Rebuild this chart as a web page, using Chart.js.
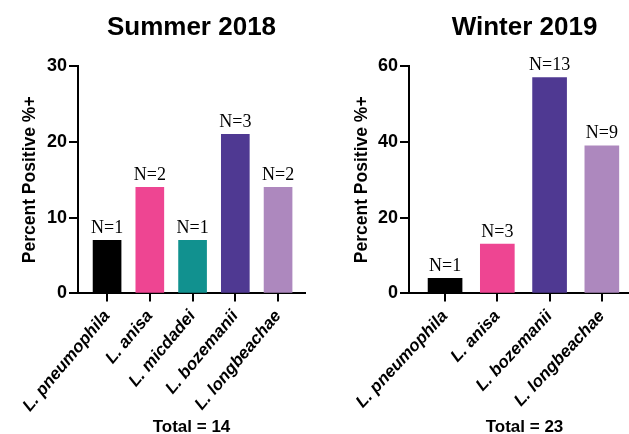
<!DOCTYPE html>
<html>
<head>
<meta charset="utf-8">
<script src="https://cdn.jsdelivr.net/npm/chart.js@4.4.1/dist/chart.umd.min.js"></script>
<style>
  html, body { margin: 0; padding: 0; background: #fff; overflow: hidden; }
  .pane { position: absolute; top: 0; }
</style>
</head>
<body>
<div class="pane" style="left:0"><canvas id="summerChart" width="320" height="434"></canvas></div>
<div class="pane" style="left:320px"><canvas id="winterChart" width="320" height="434"></canvas></div>
<script>
// ---- data ----
const summerSpecies = ['L. pneumophila', 'L. anisa', 'L. micdadei', 'L. bozemanii', 'L. longbeachae'];
const summerPercent = [7, 14, 7, 21, 14];
const summerCounts  = [1, 2, 1, 3, 2];
const summerTicks   = [0, 10, 20, 30];

const winterSpecies = ['L. pneumophila', 'L. anisa', 'L. bozemanii', 'L. longbeachae'];
const winterPercent = [4, 13, 57, 39];
const winterCounts  = [1, 3, 13, 9];
const winterTicks   = [0, 20, 40, 60];

const summerColors = ['#000000', '#ee4592', '#11918f', '#4f3992', '#ad88be'];
const winterColors = ['#000000', '#ee4592', '#4f3992', '#ad88be'];

const SANS = '"Liberation Sans", Arial, sans-serif';
const SERIF = '"Liberation Serif", "Times New Roman", serif';

// N=.. labels above each bar
const nLabels = {
    id: 'nLabels',
    afterDatasetsDraw(chart, args, opts) {
        const ctx = chart.ctx;
        const meta = chart.getDatasetMeta(0);
        ctx.save();
        ctx.font = '18px ' + SERIF;
        ctx.fillStyle = '#000';
        ctx.textAlign = 'center';
        ctx.textBaseline = 'bottom';
        meta.data.forEach((bar, i) => {
            ctx.fillText('N=' + opts.counts[i], bar.x, bar.y - 3);
        });
        ctx.restore();
    }
};

function makeChart(id, cfg) {
    return new Chart(document.getElementById(id), {
        type: 'bar',
        data: {
            datasets: [{
                data: cfg.values.map((v, i) => ({ x: i, y: v })),
                backgroundColor: cfg.colors,
                barThickness: cfg.barWidth,
                borderWidth: 0
            }]
        },
        options: {
            responsive: false,
            animation: false,
            devicePixelRatio: 1,
            layout: { padding: { left: 0, right: cfg.padRight, top: 0, bottom: 0 } },
            plugins: {
                legend: { display: false },
                tooltip: { enabled: false },
                title: {
                    display: true, text: cfg.title, color: '#000', fullSize: false,
                    font: { family: SANS, size: 26, weight: 'bold' },
                    padding: { top: 12, bottom: 23 }
                },
                subtitle: {
                    display: true, position: 'bottom', text: cfg.total, color: '#000', fullSize: false,
                    font: { family: SANS, size: 17, weight: 'bold', lineHeight: 0.8 },
                    padding: { top: 0, bottom: 0 }
                },
                nLabels: { counts: cfg.counts }
            },
            scales: {
                x: {
                    type: 'linear',
                    min: cfg.xMin, max: cfg.xMax,
                    offset: false,
                    grid: { offset: false, drawOnChartArea: false, color: '#000', lineWidth: 2, tickLength: 8 },
                    border: { color: '#000', width: 2 },
                    afterBuildTicks: s => { s.ticks = cfg.labels.map((_, i) => ({ value: i })); },
                    afterFit: s => { s.height = 127; },
                    ticks: {
                        autoSkip: false,
                        minRotation: cfg.rotation, maxRotation: cfg.rotation,
                        color: '#000', padding: 5,
                        font: { family: SANS, size: 17, weight: 'bold', style: 'italic' },
                        callback: v => cfg.labels[v]
                    }
                },
                y: {
                    min: 0, max: cfg.yTicks[cfg.yTicks.length - 1],
                    grid: { drawOnChartArea: false, color: '#000', lineWidth: 2, tickLength: 9 },
                    border: { color: '#000', width: 2 },
                    afterBuildTicks: s => { s.ticks = cfg.yTicks.map(v => ({ value: v })); },
                    afterFit: s => { s.width = cfg.yWidth; },
                    ticks: {
                        color: '#000', padding: 2,
                        font: { family: SANS, size: 18, weight: 'bold' }
                    },
                    title: {
                        display: true, text: 'Percent Positive %+', color: '#000',
                        font: { family: SANS, size: 17.5, weight: 'bold' },
                        padding: { top: cfg.yTitlePad, bottom: 0 }
                    }
                }
            }
        },
        plugins: [nLabels]
    });
}

makeChart('summerChart', {
    title: 'Summer 2018', total: 'Total = 14',
    labels: summerSpecies, values: summerPercent, counts: summerCounts,
    colors: summerColors, yTicks: summerTicks,
    barWidth: 28, xMin: -0.68, xMax: 4.63, rotation: 50,
    yWidth: 78, yTitlePad: 19.5, padRight: 15
});

makeChart('winterChart', {
    title: 'Winter 2019', total: 'Total = 23',
    labels: winterSpecies, values: winterPercent, counts: winterCounts,
    colors: winterColors, yTicks: winterTicks,
    barWidth: 34, xMin: -0.69, xMax: 3.73, rotation: 47,
    yWidth: 89, yTitlePad: 31.5, padRight: 0
});
</script>
</body>
</html>
